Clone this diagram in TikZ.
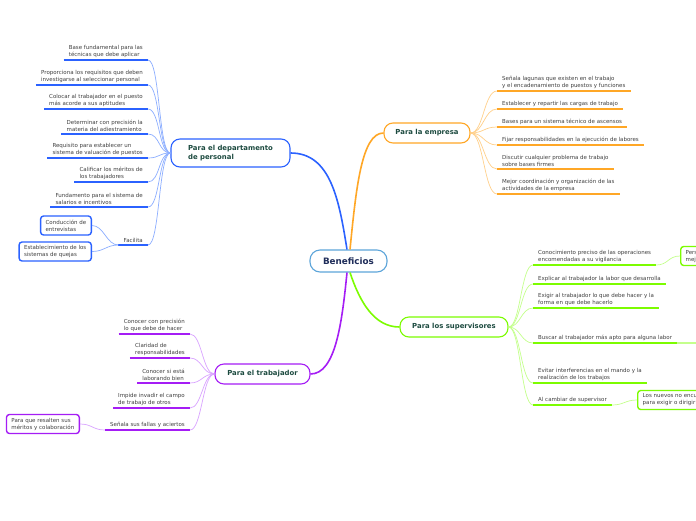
\documentclass[tikz,border=0pt]{standalone}
\usepackage{fontspec}
\setmainfont{DejaVu Sans}
\definecolor{blueM}{HTML}{2B62FF}
\definecolor{blueL}{HTML}{8CAEFF}
\definecolor{orangeM}{HTML}{FFA726}
\definecolor{orangeL}{HTML}{FFD08A}
\definecolor{greenM}{HTML}{7CFC00}
\definecolor{greenL}{HTML}{C4FF8C}
\definecolor{purpleM}{HTML}{A51DF5}
\definecolor{purpleL}{HTML}{D9A3FF}
\definecolor{navy}{HTML}{1F2D5A}
\definecolor{mainTxt}{HTML}{1D4B40}
\definecolor{leafTxt}{HTML}{404040}
\definecolor{benBorder}{HTML}{5DA5DA}
\newcommand\leaffont{\fontsize{5.5}{7}\selectfont}
\newcommand\ulline[2]{\draw[#1,line width=1.6pt] (#2.south west) -- (#2.south east);}
\tikzset{
  leaf/.style={font=\leaffont, align=left, inner xsep=5pt, inner ysep=2pt, text=leafTxt},
  leafL/.style={leaf, anchor=south east},
  leafR/.style={leaf, anchor=south west},
  mainbox/.style={draw=#1, line width=1.1pt, rounded corners=9pt, fill=white,
    font=\fontsize{6.9}{9}\selectfont\bfseries, text=mainTxt, align=left,
    minimum height=20pt, inner xsep=8pt},
  childbox/.style={draw=#1, line width=1.4pt, rounded corners=3pt, fill=white,
    font=\leaffont, text=leafTxt, align=left, inner xsep=5pt, minimum height=19pt},
  conn/.style={draw=#1, line width=0.7pt},
  mconn/.style={draw=#1, line width=1.6pt},
}
\begin{document}
\begin{tikzpicture}[x=1pt,y=-1pt]
\useasboundingbox[fill=white] (0,0) rectangle (696,520);

% central and main nodes
\node[draw=benBorder, line width=1.1pt, rounded corners=10pt, fill=white, minimum width=77pt,
  minimum height=22pt, font=\fontsize{8.8}{10}\selectfont\bfseries, text=navy] (ben) at (348.5,261) {Beneficios};
\node[mainbox=blueM, minimum width=119pt, minimum height=28pt] (dept) at (230.5,153) {Para el departamento\\de personal};
\node[mainbox=orangeM, minimum width=86pt] (emp) at (427,133) {Para la empresa};
\node[mainbox=greenM, minimum width=108pt] (sup) at (454,327) {Para los supervisores};
\node[mainbox=purpleM, minimum width=95pt] (trab) at (262.5,374) {Para el trabajador};

% main connectors
\draw[mconn=blueM] ([xshift=-1.5pt]ben.north) .. controls +(-8,-50) and +(40,0) .. (dept.east);
\draw[mconn=orangeM] ([xshift=1.5pt]ben.north) .. controls +(6,-60) and +(-22,0) .. (emp.west);
\draw[mconn=greenM] ([xshift=1.5pt]ben.south) .. controls +(10,30) and +(-25,0) .. (sup.west);
\draw[mconn=purpleM] ([xshift=-1.5pt]ben.south) .. controls +(-5,50) and +(25,0) .. (trab.east);

% departamento leaves
\node[leafL] (d1) at (148,60) {Base fundamental para las\\técnicas que debe aplicar};
\node[leafL] (d2) at (148,85) {Proporciona los requisitos que deben\\investigarse al seleccionar personal};
\node[leafL] (d3) at (148,109) {Colocar al trabajador en el puesto\\más acorde a sus aptitudes};
\node[leafL] (d4) at (148,134) {Determinar con precisión la\\materia del adiestramiento};
\node[leafL] (d5) at (148,158) {Requisito para establecer un\\sistema de valuación de puestos};
\node[leafL] (d6) at (148,182) {Calificar los méritos de\\los trabajadores};
\node[leafL] (d7) at (148,207) {Fundamento para el sistema de\\salarios e incentivos};
\node[leafL] (d8) at (148,245) {Facilita};
\foreach \n in {d1,d2,d3,d4,d5,d6,d7,d8}{
  \draw[conn=blueL] (dept.west) .. controls +(-12,0) and +(12,0) .. (\n.south east);
  \ulline{blueM}{\n}
}
\node[childbox=blueM, anchor=east] (c1) at (92,225.5) {Conducción de\\entrevistas};
\node[childbox=blueM, anchor=east] (c2) at (92,251.5) {Establecimiento de los\\sistemas de quejas};
\draw[conn=blueL] (d8.south west) .. controls +(-12,0) and +(12,0) .. (c1.east);
\draw[conn=blueL] (d8.south west) .. controls +(-12,0) and +(12,0) .. (c2.east);

% empresa leaves
\node[leafR] (e1) at (497,91) {Señala lagunas que existen en el trabajo\\y el encadenamiento de puestos y funciones};
\node[leafR] (e2) at (497,109) {Establecer y repartir las cargas de trabajo};
\node[leafR] (e3) at (497,127) {Bases para un sistema técnico de ascensos};
\node[leafR] (e4) at (497,145) {Fijar responsabilidades en la ejecución de labores};
\node[leafR] (e5) at (497,169) {Discutir cualquier problema de trabajo\\sobre bases firmes};
\node[leafR] (e6) at (497,194) {Mejor coordinación y organización de las\\actividades de la empresa};
\foreach \n in {e1,e2,e3,e4,e5,e6}{
  \draw[conn=orangeL] (emp.east) .. controls +(13,0) and +(-13,0) .. (\n.south west);
  \ulline{orangeM}{\n}
}

% supervisores leaves
\node[leafR] (s1) at (533,265) {Conocimiento preciso de las operaciones\\encomendadas a su vigilancia};
\node[leafR] (s2) at (533,284) {Explicar al trabajador la labor que desarrolla};
\node[leafR] (s3) at (533,308) {Exigir al trabajador lo que debe hacer y la\\forma en que debe hacerlo};
\node[leafR] (s4) at (533,343) {Buscar al trabajador más apto para alguna labor};
\node[leafR] (s5) at (533,383) {Evitar interferencias en el mando y la\\realización de los trabajos};
\node[leafR] (s6) at (533,405) {Al cambiar de supervisor};
\foreach \n in {s1,s2,s3,s4,s5,s6}{
  \draw[conn=greenL] (sup.east) .. controls +(12,0) and +(-12,0) .. (\n.south west);
  \ulline{greenM}{\n}
}
\node[childbox=greenM, anchor=west] (c4) at (680,256) {Personal\\mejor};
\node[childbox=greenM, anchor=west] (c5) at (637,400) {Los nuevos no encuentran\\para exigir o dirigir};
\coordinate (s4out) at (700,343);
\draw[conn=greenL] (s1.south east) .. controls +(12,0) and +(-12,0) .. (c4.west);
\draw[conn=greenL] (s6.south east) .. controls +(12,0) and +(-12,0) .. (c5.west);
\draw[draw=greenL, line width=1.6pt] (s4.south east) -- (s4out);

% trabajador leaves
\node[leafL] (t1) at (190,334) {Conocer con precisión\\lo que debe de hacer};
\node[leafL] (t2) at (190,358) {Claridad de\\responsabilidades};
\node[leafL] (t3) at (190,383) {Conocer si está\\laborando bien};
\node[leafL] (t4) at (190,408) {Impide invadir el campo\\de trabajo de otros};
\node[leafL] (t5) at (190,430) {Señala sus fallas y aciertos};
\foreach \n in {t1,t2,t3,t4,t5}{
  \draw[conn=purpleL] (trab.west) .. controls +(-12,0) and +(12,0) .. (\n.south east);
  \ulline{purpleM}{\n}
}
\node[childbox=purpleM, anchor=east] (c3) at (80,424) {Para que resalten sus\\méritos y colaboración};
\draw[conn=purpleL] (t5.south west) .. controls +(-12,0) and +(12,0) .. (c3.east);
\end{tikzpicture}
\end{document}
